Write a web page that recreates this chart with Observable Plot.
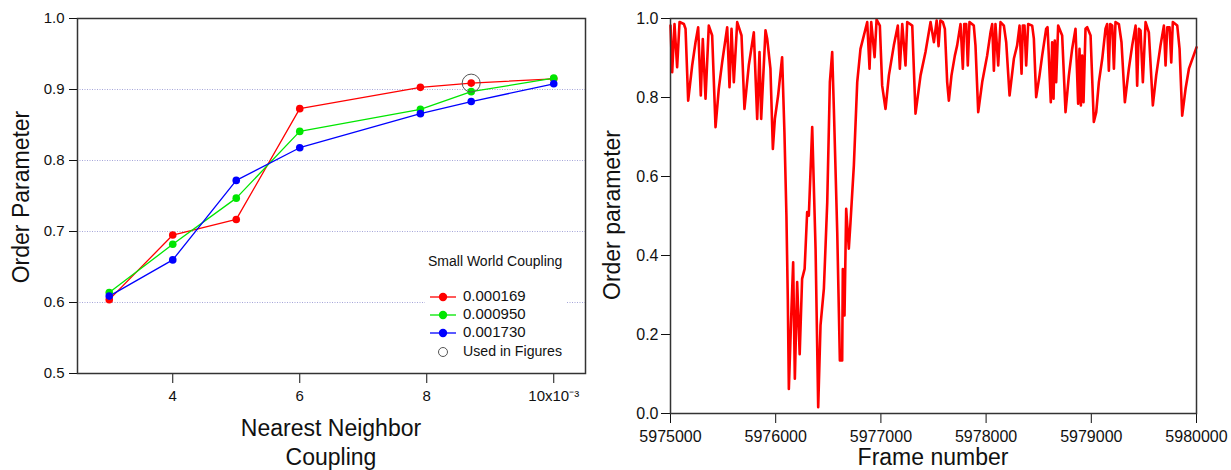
<!DOCTYPE html>
<html><head><meta charset="utf-8">
<script src="https://cdn.jsdelivr.net/npm/d3@7"></script>
<script src="https://cdn.jsdelivr.net/npm/@observablehq/plot@0.6"></script>
<style>
body{margin:0;background:#fff;}
#root{position:relative;width:1231px;height:470px;overflow:hidden;font-family:"Liberation Sans",Arial,sans-serif;color:#111;}
.chart{position:absolute;top:0;}
.title{position:absolute;font-size:23px;line-height:1;white-space:nowrap;color:#111;transform:translate(-50%,-50%);}
.rot{transform:translate(-50%,-50%) rotate(-90deg);}
#legend{position:absolute;left:425px;top:250px;width:142px;height:112px;background:#fff;}
</style></head><body><div id="root"></div>
<script>
// ---- Left chart data ----
const nnCoupling = [3, 4, 5, 6, 7.9, 8.7, 10]; // x10^-3
const swSeries = ["0.000169", "0.000950", "0.001730"];
const swColors = ["#ff0000", "#00e600", "#0000ff"];
const order169 = [0.604, 0.695, 0.717, 0.873, 0.903, 0.909, 0.915];
const order950 = [0.614, 0.682, 0.747, 0.841, 0.872, 0.897, 0.916];
const order1730 = [0.609, 0.660, 0.772, 0.818, 0.866, 0.883, 0.908];
const usedX = [8.7];
const usedY = [0.909];
const leftXTicks = [4, 6, 8, 10];
const leftYTicks = [0.5, 0.6, 0.7, 0.8, 0.9, 1.0];
const gridYTicks = [0.6, 0.7, 0.8, 0.9];

// ---- Right chart data ----
const frames = [
5975000,5975016,5975038,5975063,5975086,5975127,5975143,5975168,5975206,5975238,5975263,5975288,5975307,5975333,5975364,5975396,5975428,5975459,5975491,5975539,5975561,5975580,5975602,5975634,5975675,5975703,5975744,5975792,5975824,5975846,5975862,5975903,5975919,5975950,5975973,5975992,5976023,5976061,5976083,5976102,5976115,5976125,5976150,5976166,5976182,5976204,5976228,5976251,5976275,
5976299,5976315,5976347,5976379,5976404,5976426,5976458,5976490,5976515,5976537,5976553,5976585,5976610,5976632,5976638,5976654,5976670,5976695,5976711,5976743,5976775,5976806,5976838,5976870,5976892,5976908,5976940,5976959,5976990,5977012,5977044,5977076,5977123,5977161,5977180,5977203,5977234,5977250,5977298,5977329,5977377,5977424,5977472,5977504,5977530,5977548,5977565,
5977589,5977608,5977630,5977646,5977671,5977703,5977725,5977757,5977779,5977792,5977811,5977826,5977842,5977883,5977899,5977925,5977963,5978010,5978042,5978058,5978074,5978089,5978115,5978137,5978169,5978191,5978223,5978264,5978295,5978318,5978337,5978349,5978365,5978381,5978400,5978438,5978454,5978476,5978508,5978533,5978571,5978584,5978596,5978615,5978628,5978641,5978653,5978666,5978685,5978723,5978755,
5978787,5978818,5978850,5978875,5978888,5978901,5978913,5978926,5978945,5978961,5978993,5979024,5979047,5979072,5979104,5979135,5979151,5979167,5979180,5979199,5979215,5979230,5979262,5979287,5979319,5979357,5979389,5979421,5979436,5979452,5979468,5979490,5979516,5979547,5979585,5979617,5979658,5979690,5979706,5979722,5979744,5979760,5979775,5979817,5979839,5979864,5979896,5979928,5980000];
const orderParam = [
0.982,0.864,0.986,0.877,0.991,0.986,0.974,0.792,0.881,0.940,0.978,0.805,0.948,0.797,0.982,0.957,0.725,0.822,0.889,0.978,0.826,0.974,0.839,0.991,0.957,0.771,0.881,0.965,0.746,0.915,0.746,0.970,0.949,0.873,0.670,0.746,0.805,0.902,0.712,0.501,0.290,0.062,0.265,0.383,0.088,0.333,0.150,0.341,0.366,
0.510,0.501,0.725,0.417,0.016,0.223,0.316,0.535,0.839,0.915,0.771,0.459,0.134,0.134,0.366,0.248,0.518,0.417,0.484,0.628,0.839,0.923,0.957,0.991,0.873,0.991,0.902,0.997,0.982,0.830,0.771,0.856,0.932,0.982,0.873,0.986,0.881,0.991,0.982,0.759,0.856,0.915,0.991,0.940,0.995,0.930,0.995,
0.991,0.974,0.839,0.792,0.856,0.906,0.932,0.986,0.873,0.986,0.986,0.881,0.991,0.982,0.932,0.763,0.839,0.906,0.965,0.986,0.868,0.986,0.881,0.991,0.982,0.940,0.805,0.898,0.932,0.982,0.860,0.982,0.982,0.881,0.986,0.982,0.949,0.801,0.856,0.906,0.974,0.978,0.906,0.788,0.940,0.797,0.944,0.839,0.982,0.957,0.763,
0.856,0.923,0.974,0.784,0.923,0.780,0.906,0.788,0.974,0.978,0.957,0.738,0.763,0.839,0.898,0.974,0.986,0.868,0.986,0.982,0.873,0.991,0.986,0.940,0.788,0.873,0.932,0.982,0.830,0.974,0.970,0.839,0.991,0.965,0.780,0.856,0.932,0.982,0.881,0.978,0.978,0.889,0.991,0.982,0.923,0.754,0.822,0.873,0.927];
const rightXTicks = [5975000, 5976000, 5977000, 5978000, 5979000, 5980000];
const rightYTicks = [0, 0.2, 0.4, 0.6, 0.8, 1.0];

const root = document.getElementById("root");
const font = "Liberation Sans, Arial, sans-serif";

// ---- Left chart ----
const seriesVals = [order169, order950, order1730];
const tidy = swSeries.flatMap((s, i) => nnCoupling.map((x, j) => ({series: s, x, y: seriesVals[i][j]})));
const used = usedX.map((x, i) => ({x, y: usedY[i]}));
const left = Plot.plot({
  width: 600, height: 470,
  marginLeft: 77, marginRight: 15, marginTop: 18, marginBottom: 97,
  style: {fontFamily: font, fontSize: "15px", color: "#111", background: "transparent"},
  x: {domain: [2.5, 10.5]},
  y: {domain: [0.5, 1.0]},
  color: {domain: swSeries, range: swColors},
  marks: [
    Plot.gridY(gridYTicks, {stroke: "#9090d0", strokeOpacity: 0.8, strokeDasharray: "1,1.5"}),
    Plot.line(tidy, {x: "x", y: "y", z: "series", stroke: "series", strokeWidth: 1.3}),
    Plot.dot(tidy, {x: "x", y: "y", fill: "series", r: 3.8}),
    Plot.dot(used, {x: "x", y: "y", r: 9, stroke: "#555", fill: "none", strokeWidth: 1}),
    Plot.axisX(leftXTicks, {tickSize: 10, tickPadding: 7, label: null, fontSize: 15, tickFormat: d => d === 10 ? "10x10⁻³" : String(d)}),
    Plot.axisY(leftYTicks, {tickSize: 8, tickPadding: 5, label: null, fontSize: 15, tickFormat: d3.format(".1f")}),
    Plot.frame({stroke: "#333", strokeWidth: 1.5})
  ]
});
const lw = document.createElement("div");
lw.className = "chart"; lw.style.left = "0px";
lw.appendChild(left);
root.appendChild(lw);

// ---- Right chart ----
const ts = frames.map((f, i) => ({f, v: orderParam[i]}));
const right = Plot.plot({
  width: 631, height: 470,
  marginLeft: 70, marginRight: 35, marginTop: 18, marginBottom: 57,
  style: {fontFamily: font, fontSize: "16px", color: "#111", background: "transparent"},
  x: {domain: [5975000, 5980000]},
  y: {domain: [0, 1]},
  marks: [
    Plot.line(ts, {x: "f", y: "v", stroke: "#ff0000", strokeWidth: 2.6, strokeLinejoin: "round"}),
    Plot.axisX(rightXTicks, {tickSize: 10, tickPadding: 7, label: null, fontSize: 16, tickFormat: d => String(d)}),
    Plot.axisY(rightYTicks, {tickSize: 9, tickPadding: 3, label: null, fontSize: 16, tickFormat: d3.format(".1f")}),
    Plot.frame({stroke: "#333", strokeWidth: 1.5})
  ]
});
const rw = document.createElement("div");
rw.className = "chart"; rw.style.left = "600px";
rw.appendChild(right);
root.appendChild(rw);

// ---- Titles ----
function title(text, x, y, rot) {
  const d = document.createElement("div");
  d.className = "title" + (rot ? " rot" : "");
  d.textContent = text;
  d.style.left = x + "px"; d.style.top = y + "px";
  root.appendChild(d);
}
title("Order Parameter", 21, 197, true);
title("Nearest Neighbor", 331, 428, false);
title("Coupling", 331, 457, false);
title("Order parameter", 612, 215, true);
title("Frame number", 933, 457, false);

// ---- Legend ----
const ns = "http://www.w3.org/2000/svg";
const leg = document.createElement("div");
leg.id = "legend";
const svg = document.createElementNS(ns, "svg");
svg.setAttribute("width", 142); svg.setAttribute("height", 112);
svg.style.fontFamily = font;
function el(tag, attrs, text) {
  const e = document.createElementNS(ns, tag);
  for (const k in attrs) e.setAttribute(k, attrs[k]);
  if (text != null) e.textContent = text;
  svg.appendChild(e);
  return e;
}
el("text", {x: 3, y: 12, "dominant-baseline": "middle", "font-size": 14, fill: "#111"}, "Small World Coupling");
const rowY = [47, 65, 83];
swSeries.forEach((s, i) => {
  el("line", {x1: 5, x2: 31, y1: rowY[i], y2: rowY[i], stroke: swColors[i], "stroke-width": 1.3});
  el("circle", {cx: 18, cy: rowY[i], r: 4.2, fill: swColors[i]});
  el("text", {x: 38, y: rowY[i], "dominant-baseline": "middle", "font-size": 15, fill: "#111"}, s);
});
el("circle", {cx: 18, cy: 102, r: 4.5, fill: "none", stroke: "#555", "stroke-width": 1});
el("text", {x: 38, y: 102, "dominant-baseline": "middle", "font-size": 15, fill: "#111", textLength: 99, lengthAdjust: "spacingAndGlyphs"}, "Used in Figures");
leg.appendChild(svg);
root.appendChild(leg);
</script>
</body></html>
